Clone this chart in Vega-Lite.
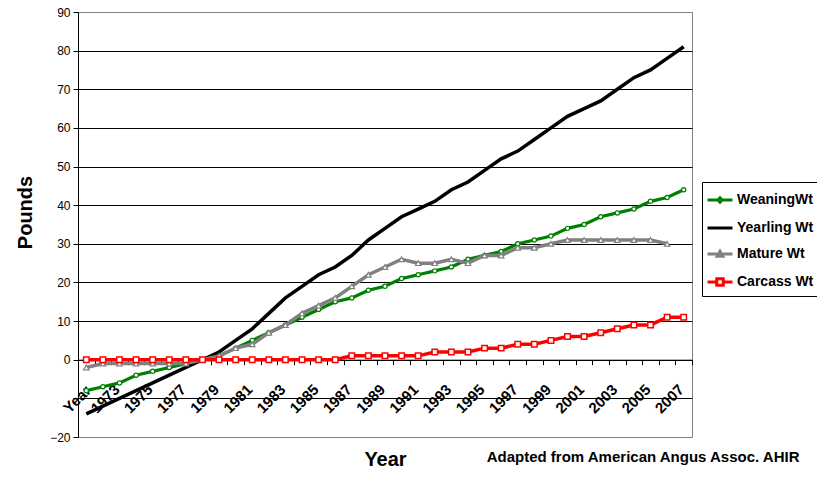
{
  "$schema": "https://vega.github.io/schema/vega-lite/v6.json",
  "width": 614,
  "height": 425,
  "autosize": {"type": "none"},
  "padding": {"left": 78, "top": 12, "right": 125, "bottom": 43},
  "background": "white",
  "config": {
    "font": "Liberation Sans",
    "view": {"stroke": "#808080", "strokeWidth": 1}
  },
  "title": {
    "text": "Adapted from American Angus Assoc. AHIR",
    "orient": "bottom",
    "anchor": "end",
    "fontSize": 15,
    "fontWeight": "bold",
    "font": "Liberation Sans",
    "color": "black",
    "offset": -19,
    "dx": -19
  },
  "data": {
    "values": [
      {"Year": 1972, "Weaning": -8, "Yearling": -14, "Mature": -2, "Carcass": 0},
      {"Year": 1973, "Weaning": -7, "Yearling": -12, "Mature": -1, "Carcass": 0},
      {"Year": 1974, "Weaning": -6, "Yearling": -10, "Mature": -1, "Carcass": 0},
      {"Year": 1975, "Weaning": -4, "Yearling": -8, "Mature": -1, "Carcass": 0},
      {"Year": 1976, "Weaning": -3, "Yearling": -6, "Mature": -1, "Carcass": 0},
      {"Year": 1977, "Weaning": -2, "Yearling": -4, "Mature": -1, "Carcass": 0},
      {"Year": 1978, "Weaning": -1, "Yearling": -2, "Mature": -1, "Carcass": 0},
      {"Year": 1979, "Weaning": 0, "Yearling": 0, "Mature": 0, "Carcass": 0},
      {"Year": 1980, "Weaning": 1, "Yearling": 2, "Mature": 1, "Carcass": 0},
      {"Year": 1981, "Weaning": 3, "Yearling": 5, "Mature": 3, "Carcass": 0},
      {"Year": 1982, "Weaning": 5, "Yearling": 8, "Mature": 4, "Carcass": 0},
      {"Year": 1983, "Weaning": 7, "Yearling": 12, "Mature": 7, "Carcass": 0},
      {"Year": 1984, "Weaning": 9, "Yearling": 16, "Mature": 9, "Carcass": 0},
      {"Year": 1985, "Weaning": 11, "Yearling": 19, "Mature": 12, "Carcass": 0},
      {"Year": 1986, "Weaning": 13, "Yearling": 22, "Mature": 14, "Carcass": 0},
      {"Year": 1987, "Weaning": 15, "Yearling": 24, "Mature": 16, "Carcass": 0},
      {"Year": 1988, "Weaning": 16, "Yearling": 27, "Mature": 19, "Carcass": 1},
      {"Year": 1989, "Weaning": 18, "Yearling": 31, "Mature": 22, "Carcass": 1},
      {"Year": 1990, "Weaning": 19, "Yearling": 34, "Mature": 24, "Carcass": 1},
      {"Year": 1991, "Weaning": 21, "Yearling": 37, "Mature": 26, "Carcass": 1},
      {"Year": 1992, "Weaning": 22, "Yearling": 39, "Mature": 25, "Carcass": 1},
      {"Year": 1993, "Weaning": 23, "Yearling": 41, "Mature": 25, "Carcass": 2},
      {"Year": 1994, "Weaning": 24, "Yearling": 44, "Mature": 26, "Carcass": 2},
      {"Year": 1995, "Weaning": 26, "Yearling": 46, "Mature": 25, "Carcass": 2},
      {"Year": 1996, "Weaning": 27, "Yearling": 49, "Mature": 27, "Carcass": 3},
      {"Year": 1997, "Weaning": 28, "Yearling": 52, "Mature": 27, "Carcass": 3},
      {"Year": 1998, "Weaning": 30, "Yearling": 54, "Mature": 29, "Carcass": 4},
      {"Year": 1999, "Weaning": 31, "Yearling": 57, "Mature": 29, "Carcass": 4},
      {"Year": 2000, "Weaning": 32, "Yearling": 60, "Mature": 30, "Carcass": 5},
      {"Year": 2001, "Weaning": 34, "Yearling": 63, "Mature": 31, "Carcass": 6},
      {"Year": 2002, "Weaning": 35, "Yearling": 65, "Mature": 31, "Carcass": 6},
      {"Year": 2003, "Weaning": 37, "Yearling": 67, "Mature": 31, "Carcass": 7},
      {"Year": 2004, "Weaning": 38, "Yearling": 70, "Mature": 31, "Carcass": 8},
      {"Year": 2005, "Weaning": 39, "Yearling": 73, "Mature": 31, "Carcass": 9},
      {"Year": 2006, "Weaning": 41, "Yearling": 75, "Mature": 31, "Carcass": 9},
      {"Year": 2007, "Weaning": 42, "Yearling": 78, "Mature": 30, "Carcass": 11},
      {"Year": 2008, "Weaning": 44, "Yearling": 81, "Carcass": 11}
    ]
  },
  "transform": [
    {"fold": ["Weaning", "Yearling", "Mature", "Carcass"], "as": ["series", "value"]},
    {"filter": "isValid(datum.value)"}
  ],
  "encoding": {
    "x": {
      "field": "Year",
      "type": "quantitative",
      "scale": {"domain": [1971.5, 2008.5], "nice": false, "zero": false},
      "axis": {
        "values": [1971.5, 1972.5, 1973.5, 1974.5, 1975.5, 1976.5, 1977.5, 1978.5, 1979.5, 1980.5, 1981.5, 1982.5, 1983.5, 1984.5, 1985.5, 1986.5, 1987.5, 1988.5, 1989.5, 1990.5, 1991.5, 1992.5, 1993.5, 1994.5, 1995.5, 1996.5, 1997.5, 1998.5, 1999.5, 2000.5, 2001.5, 2002.5, 2003.5, 2004.5, 2005.5, 2006.5, 2007.5, 2008.5],
        "offset": -77.3,
        "labelExpr": "datum.value == 1971.5 ? 'Year' : ((datum.value + 0.5) % 2 == 1 && datum.value < 2008 ? '' + (datum.value + 0.5) : '')",
        "labelAngle": -45,
        "labelAlign": "right",
        "labelBaseline": "top",
        "labelOffset": {"condition": {"test": "datum.value == 1971.5", "value": 5}, "value": 17},
        "labelPadding": {"condition": {"test": "datum.value == 1971.5", "value": 18}, "value": 17},
        "labelFontSize": 15,
        "labelFontWeight": "bold",
        "labelColor": "black",
        "labelFont": "Liberation Sans",
        "labelOverlap": false,
        "labelFlush": false,
        "labelBound": false,
        "tickSize": 5,
        "tickColor": "black",
        "domainColor": "black",
        "grid": false,
        "title": "Year",
        "titleFontSize": 20,
        "titleFontWeight": "bold",
        "titleColor": "black",
        "titleFont": "Liberation Sans",
        "titleBaseline": "alphabetic",
        "titleY": 105.5
      }
    },
    "y": {
      "field": "value",
      "type": "quantitative",
      "scale": {"domain": [-20, 90], "nice": false, "zero": false},
      "axis": {
        "values": [-20, -10, 0, 10, 20, 30, 40, 50, 60, 70, 80, 90],
        "labelExpr": "datum.value == -10 ? '' : datum.label",
        "title": "Pounds",
        "titleFontSize": 20,
        "titleFontWeight": "bold",
        "titleColor": "black",
        "titleFont": "Liberation Sans",
        "titlePadding": 14,
        "titleY": 200,
        "labelFontSize": 12,
        "labelColor": "black",
        "labelFont": "Liberation Sans",
        "labelPadding": 3,
        "tickSize": 5,
        "tickColor": "black",
        "domainColor": "black",
        "grid": true,
        "gridColor": {"condition": {"test": "datum.value == 90 || datum.value == -20", "value": "#808080"}, "value": "#000000"},
        "gridWidth": 1
      }
    }
  },
  "layer": [
    {
      "transform": [{"filter": "datum.series == 'Weaning'"}],
      "mark": {"type": "line", "strokeWidth": 3.2},
      "encoding": {
        "color": {
          "field": "series",
          "type": "nominal",
          "scale": {"domain": ["Weaning", "Yearling", "Mature", "Carcass"], "range": ["#008000", "#000000", "#808080", "#ff0000"]},
          "legend": {
            "orient": "none",
            "legendX": 624,
            "legendY": 170,
            "title": null,
            "strokeColor": "black",
            "fillColor": "white",
            "padding": 4,
            "rowPadding": 5,
            "labelOffset": 3,
            "labelFontSize": 14,
            "labelFontWeight": "bold",
            "labelColor": "black",
            "labelFont": "Liberation Sans",
            "labelExpr": "datum.value == 'Weaning' ? 'WeaningWt' : datum.value + ' Wt'",
            "symbolSize": 625,
            "symbolStrokeWidth": 3,
            "encode": {
              "symbols": {
                "update": {
                  "shape": {"signal": "datum.value == 'Weaning' ? 'M-1,0H-0.18M0.18,0H1M-0.18,0L0,-0.18L0.18,0L0,0.18Z' : datum.value == 'Mature' ? 'M-1,0H-0.22M0.22,0H1M-0.22,0.18L0,-0.22L0.22,0.18Z' : datum.value == 'Carcass' ? 'M-1,0H-0.26M0.26,0H1M-0.26,-0.26H0.26V0.26H-0.26Z' : 'M-1,0H1'"},
                  "fill": {"value": "white"}
                }
              }
            }
          }
        }
      }
    },
    {
      "transform": [{"filter": "datum.series == 'Weaning'"}],
      "mark": {"type": "point", "shape": "circle", "size": 18, "filled": true, "fill": "white", "stroke": "#008000", "strokeWidth": 1.2, "opacity": 1}
    },
    {
      "transform": [{"filter": "datum.series == 'Yearling'"}],
      "mark": {"type": "line", "strokeWidth": 3.5},
      "encoding": {
        "color": {"field": "series", "type": "nominal", "scale": {"domain": ["Weaning", "Yearling", "Mature", "Carcass"], "range": ["#008000", "#000000", "#808080", "#ff0000"]}}
      }
    },
    {
      "transform": [{"filter": "datum.series == 'Mature'"}],
      "mark": {"type": "line", "strokeWidth": 3.5},
      "encoding": {
        "color": {"field": "series", "type": "nominal", "scale": {"domain": ["Weaning", "Yearling", "Mature", "Carcass"], "range": ["#008000", "#000000", "#808080", "#ff0000"]}}
      }
    },
    {
      "transform": [{"filter": "datum.series == 'Mature'"}],
      "mark": {"type": "point", "shape": "triangle-up", "size": 30, "filled": true, "fill": "white", "stroke": "#808080", "strokeWidth": 1.2, "opacity": 1}
    },
    {
      "transform": [{"filter": "datum.series == 'Carcass'"}],
      "mark": {"type": "line", "strokeWidth": 3.5},
      "encoding": {
        "color": {"field": "series", "type": "nominal", "scale": {"domain": ["Weaning", "Yearling", "Mature", "Carcass"], "range": ["#008000", "#000000", "#808080", "#ff0000"]}}
      }
    },
    {
      "transform": [{"filter": "datum.series == 'Carcass'"}],
      "mark": {"type": "point", "shape": "square", "size": 30, "filled": true, "fill": "white", "stroke": "#ff0000", "strokeWidth": 1.5, "opacity": 1}
    }
  ]
}
